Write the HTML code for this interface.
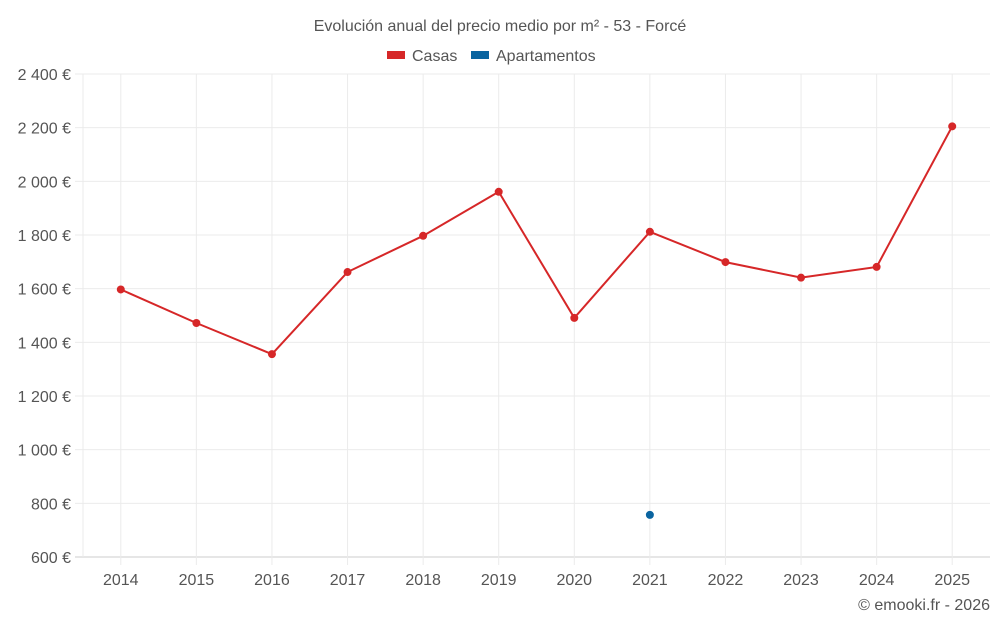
<!DOCTYPE html>
<html><head><meta charset="utf-8"><style>
body{margin:0;background:#fff;font-family:"Liberation Sans",sans-serif;}
svg text{font-family:"Liberation Sans",sans-serif;}
</style></head><body>
<svg id="chart" width="1000" height="625" xmlns="http://www.w3.org/2000/svg">
<text x="500" y="31" text-anchor="middle" font-size="16" fill="#555">Evolución anual del precio medio por m² - 53 - Forcé</text>
<g><rect x="387" y="51" width="18" height="8" fill="#d62728"/><text x="412" y="61" font-size="16" fill="#555">Casas</text></g>
<g><rect x="471" y="51" width="18" height="8" fill="#0a64a0"/><text x="496" y="61" font-size="16" fill="#555">Apartamentos</text></g>
<g id="grid"></g>
<g id="marks"></g>
<text x="990" y="610" text-anchor="end" font-size="16" fill="#555">© emooki.fr - 2026</text>
</svg>
<script>
const years=["2014","2015","2016","2017","2018","2019","2020","2021","2022","2023","2024","2025"];
const casas=[1597,1472,1356,1662,1797,1961,1491,1812,1699,1641,1681,2205];
const apartamentos=[null,null,null,null,null,null,null,757,null,null,null,null];
const yTicks=[600,800,1000,1200,1400,1600,1800,2000,2200,2400];
const L=83,R=990,T=74,B=557,ymin=600,ymax=2400;
const step=(R-L)/years.length;
const x=i=>L+step*(i+0.5);
const y=v=>B-(v-ymin)/(ymax-ymin)*(B-T);
const NS="http://www.w3.org/2000/svg";
const g=document.getElementById('grid'),m=document.getElementById('marks');
function mk(p,tag,a){const e=document.createElementNS(NS,tag);for(const k in a)e.setAttribute(k,a[k]);p.appendChild(e);return e;}
yTicks.forEach(v=>{
 const l=mk(g,'line',{x1:75,x2:R,y1:y(v),y2:y(v),stroke:v===ymin?'#ccc':'#ebebeb'});
 
 
 const t=mk(g,'text',{x:71,y:y(v)+6,'text-anchor':'end','font-size':16,fill:'#555'});
 t.textContent=v.toLocaleString('fr-FR').replace(/\s/g,' ')+' €';
 
 
});
mk(g,'line',{x1:L,x2:L,y1:T,y2:B,stroke:'#ebebeb'});
years.forEach((yr,i)=>{
 const l=mk(g,'line',{x1:x(i),x2:x(i),y1:T,y2:565,stroke:'#ebebeb'});
 
 
 const t=mk(g,'text',{x:x(i),y:585,'text-anchor':'middle','font-size':16,fill:'#555'});
 t.textContent=yr;
 
 
});
const pts=casas.map((v,i)=>x(i)+','+y(v)).join(' ');
const pl=mk(m,'polyline',{points:pts,fill:'none',stroke:'#d62728','stroke-width':2});


casas.forEach((v,i)=>{
 const c=mk(m,'circle',{cx:x(i),cy:y(v),r:4,fill:'#d62728'});
 
 
});
apartamentos.forEach((v,i)=>{
 if(v==null)return;
 const c=mk(m,'circle',{cx:x(i),cy:y(v),r:4,fill:'#0a64a0'});
 
 
});
</script>
</body></html>
